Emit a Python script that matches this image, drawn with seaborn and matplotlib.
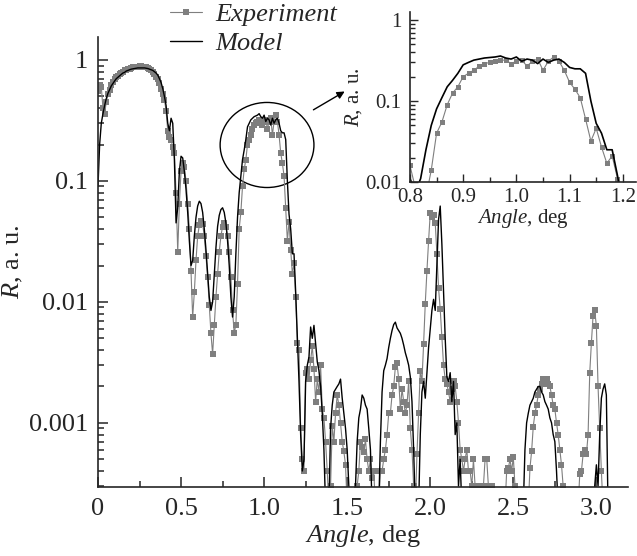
import numpy as np
import pandas as pd
import seaborn as sns
import matplotlib
matplotlib.use("Agg")
import matplotlib.pyplot as plt
from matplotlib.patches import Ellipse
from matplotlib.ticker import MultipleLocator, FixedLocator, LogLocator, NullFormatter, FuncFormatter

# experiment: sampled every 0.01 deg from 0.00 to 3.04
exp_angle = np.round(np.arange(0, 305) * 0.01, 2)
exp_r = [
    0.55, 0.62, 0.60, 0.40, 0.36, 0.45, 0.52, 0.57, 0.62, 0.66,
    0.69, 0.72, 0.74, 0.76, 0.78, 0.80, 0.82, 0.83, 0.84, 0.85,
    0.86, 0.87, 0.87, 0.88, 0.88, 0.89, 0.89, 0.88, 0.88, 0.87,
    0.86, 0.85, 0.83, 0.80, 0.77, 0.73, 0.70, 0.65, 0.58, 0.52,
    0.47, 0.38, 0.26, 0.23, 0.22, 0.19, 0.17, 0.08, 0.026, 0.065,
    0.12, 0.14, 0.13, 0.10, 0.065, 0.04, 0.018, 0.0075, 0.012, 0.022,
    0.035, 0.043, 0.047, 0.044, 0.035, 0.024, 0.016, 0.0095, 0.0055, 0.0037,
    0.0065, 0.011, 0.017, 0.026, 0.035, 0.042, 0.045, 0.042, 0.035, 0.026,
    0.016, 0.0085, 0.0055, 0.0065, 0.014, 0.04, 0.055, 0.09, 0.125, 0.15,
    0.20, 0.22, 0.24, 0.27, 0.29, 0.30, 0.31, 0.32, 0.32, 0.29,
    0.31, 0.32, 0.27, 0.31, 0.33, 0.24, 0.31, 0.35, 0.31, 0.24,
    0.17, 0.14, 0.11, 0.06, 0.032, 0.046, 0.027, 0.017, 0.021, 0.011,
    0.0046, 0.004, 0.0009, 0.0005, 0.0004, 0.0026, 0.0028, 0.0023, 0.0033, 0.0043,
    0.0028, 0.0015, 0.0023, 0.0018, 0.003, 0.0013, 0.0011, 0.0007, 0.0004, 0.0002,
    0.0003, 0.00095, 0.0007, 0.0012, 0.0017, 0.0014, 0.001, 0.0007, 0.00058, 0.00045,
    0.0002, 0.0001, 0.0001, 0.0001, 0.0001, 0.0002, 0.0003, 0.0004, 0.0007, 0.00063,
    0.00057, 0.00073, 0.0005, 0.0004, 0.0005, 0.00035, 0.0004, 0.0002, 0.0001, 0.0002,
    0.0004, 0.0004, 0.0005, 0.0006, 0.0008, 0.0012, 0.0012, 0.0017, 0.002, 0.0029,
    0.0031, 0.0023, 0.0013, 0.0019, 0.0015, 0.0012, 0.0014, 0.0022, 0.0009, 0.0006,
    0.0003, 0.0002, 0.00055, 0.0012, 0.0027, 0.0022, 0.0045, 0.0097, 0.018, 0.032,
    0.054, 0.05, 0.052, 0.045, 0.025, 0.013, 0.0087, 0.0051, 0.003, 0.0023,
    0.0021, 0.0018, 0.0015, 0.0019, 0.0022, 0.002, 0.0015, 0.001, 0.0006, 0.0005,
    0.0004, 0.0005, 0.0006, 0.0004, 0.0004, 0.0003, 0.0005, 0.0003, 0.0002, 0.0003,
    0.0002, 0.0002, 0.0003, 0.0005, 0.0005, 0.0003, 0.0002, 0.0003, 0.0002, 0.0002,
    0.0002, 0.0002, 0.0002, 0.0002, 0.0002, 0.0002, 0.0004, 0.00042, 0.0005, 0.0004,
    0.00052, 0.0003, 0.0002, 0.0002, 0.0002, 0.0002, 0.0002, 0.0002, 0.0002, 0.0002,
    0.00042, 0.00058, 0.00093, 0.0012, 0.0014, 0.0017, 0.0019, 0.0021, 0.0023, 0.0023,
    0.0023, 0.0021, 0.002, 0.0017, 0.0014, 0.0013, 0.001, 0.0008, 0.0006, 0.00045,
    0.0003, 0.0002, 0.0002, 0.0002, 0.0002, 0.0002, 0.0002, 0.0002, 0.0002, 0.0002,
    0.00038, 0.0004, 0.00055, 0.0006, 0.00055, 0.0008, 0.0026, 0.0046, 0.0077, 0.0085,
    0.0063, 0.002, 0.0009, 0.0004, 0.0002,
]

# model: three stretches (0.00-2.20, 2.55-2.78, 2.98-3.08), step 0.01 deg
model_angle = np.round(np.concatenate([
    np.arange(0, 221) * 0.01,
    2.55 + np.arange(0, 24) * 0.01,
    2.98 + np.arange(0, 11) * 0.01,
]), 2)
model_r = [
    0.09, 0.2, 0.3, 0.36, 0.42, 0.48, 0.53, 0.57, 0.61, 0.64,
    0.67, 0.70, 0.72, 0.74, 0.76, 0.78, 0.79, 0.81, 0.82, 0.83,
    0.84, 0.845, 0.85, 0.855, 0.86, 0.86, 0.86, 0.86, 0.86, 0.855,
    0.85, 0.84, 0.83, 0.82, 0.80, 0.78, 0.75, 0.70, 0.65, 0.58,
    0.50, 0.42, 0.30, 0.26, 0.33, 0.30, 0.15, 0.045, 0.06, 0.12,
    0.16, 0.155, 0.12, 0.085, 0.055, 0.032, 0.02, 0.022, 0.035, 0.05,
    0.062, 0.068, 0.065, 0.055, 0.04, 0.027, 0.017, 0.011, 0.0085, 0.01,
    0.017, 0.028, 0.042, 0.052, 0.058, 0.06, 0.055, 0.045, 0.032, 0.02,
    0.011, 0.0075, 0.011, 0.025, 0.05, 0.08, 0.11, 0.15, 0.18, 0.22,
    0.28, 0.30, 0.32, 0.33, 0.34, 0.345, 0.35, 0.36, 0.34, 0.33,
    0.35, 0.31, 0.33, 0.32, 0.29, 0.33, 0.30, 0.32, 0.33, 0.30,
    0.26, 0.25, 0.25, 0.22, 0.10, 0.053, 0.04, 0.025, 0.025, 0.012,
    0.005, 0.0022, 0.0008, 0.0004, 0.0005, 0.0022, 0.003, 0.0035, 0.0062, 0.005,
    0.0064, 0.0045, 0.0032, 0.0027, 0.002, 0.0012, 0.0006, 0.0002, 0.0001, 0.0002,
    0.0009, 0.0014, 0.0018, 0.0019, 0.002, 0.0021, 0.0023, 0.0016, 0.0012, 0.0009,
    0.0006, 0.0003, 0.0001, 0.0001, 0.0001, 0.0003, 0.0007, 0.0011, 0.0013, 0.0017,
    0.0016, 0.0014, 0.0013, 0.0009, 0.0006, 0.0002, 0.0001, 0.0001, 0.0001, 0.0002,
    0.0007, 0.0018, 0.0027, 0.003, 0.0034, 0.0042, 0.005, 0.0058, 0.0065, 0.0068,
    0.0061, 0.0058, 0.0055, 0.005, 0.0044, 0.0038, 0.0034, 0.003, 0.0024, 0.0015,
    0.0006, 0.0002, 0.0001, 0.0002, 0.0008, 0.0018, 0.0022, 0.0016, 0.0026, 0.0042,
    0.006, 0.0085, 0.0105, 0.0085, 0.02, 0.048, 0.062, 0.03, 0.012, 0.005,
    0.0024, 0.0022, 0.0026, 0.0015, 0.0022, 0.0008, 0.001, 0.0003, 0.0005, 0.0002,
    0.0001,
    # 2.55 - 2.78
    0.0001, 0.0002, 0.0006, 0.001, 0.0012, 0.0014, 0.0015, 0.0016, 0.0018, 0.0019,
    0.002, 0.002, 0.0018, 0.0017, 0.0015, 0.0014, 0.0013, 0.0011, 0.001, 0.0008,
    0.0007, 0.0004, 0.0002, 0.0001,
    # 2.98 - 3.08
    0.0001, 0.0003, 0.00045, 0.0003, 0.0008, 0.0016, 0.0019, 0.0021, 0.0017, 0.0002,
    0.0001,
]

labels = ["Experiment", "Model"]
gray = "#7f7f7f"

exp_df = pd.DataFrame({"angle": exp_angle, "R": exp_r})
model_df = pd.DataFrame({"angle": model_angle, "R": model_r})

sns.set_style("ticks")
plt.rcParams["font.family"] = ["Liberation Serif", "DejaVu Serif"]
plt.rcParams["mathtext.fontset"] = "custom"
plt.rcParams["mathtext.it"] = "Liberation Serif:italic"
plt.rcParams["mathtext.rm"] = "Liberation Serif"
plt.rcParams["axes.linewidth"] = 1.2


def draw(ax, ms, lw_exp, lw_mod):
    sns.lineplot(data=exp_df, x="angle", y="R", ax=ax, color=gray, lw=lw_exp,
                 marker="s", markersize=ms, markeredgewidth=0, markerfacecolor=gray,
                 estimator=None, sort=False, label=labels[0])
    sns.lineplot(data=model_df, x="angle", y="R", ax=ax, color="black", lw=lw_mod,
                 estimator=None, sort=False, label=labels[1])
    ax.set_yscale("log")
    ax.yaxis.set_minor_locator(LogLocator(base=10, subs=np.arange(2, 10)))
    ax.yaxis.set_minor_formatter(NullFormatter())
    ax.yaxis.set_major_formatter(FuncFormatter(lambda v, p: f"{v:g}"))
    sns.despine(ax=ax)


fig = plt.figure(figsize=(6.37, 5.56), dpi=100)

# main panel
ax = fig.add_axes([0.1538, 0.1241, 0.832, 0.8094])
draw(ax, 4.0, 0.8, 1.0)
ax.set_xlim(0, 3.19)
ax.set_ylim(2.95e-4, 1.55)
ax.xaxis.set_major_locator(MultipleLocator(0.5))
ax.xaxis.set_minor_locator(MultipleLocator(0.25))
ax.xaxis.set_major_formatter(FuncFormatter(lambda v, p: "0" if abs(v) < 1e-9 else f"{v:.1f}"))
ax.yaxis.set_major_locator(FixedLocator([1e-3, 1e-2, 1e-1, 1]))
ax.tick_params(which="both", direction="in", width=1.1, labelsize=19)
ax.tick_params(which="major", length=7)
ax.tick_params(which="minor", length=4)
ax.tick_params(axis="x", which="both", pad=8)
ax.tick_params(axis="y", which="both", pad=7)
ax.set_xlabel(r"$Angle$, deg", fontsize=19, labelpad=2)
ax.set_ylabel(r"$R$, a. u.", fontsize=19, labelpad=3)

handles, labs = ax.get_legend_handles_labels()
ax.get_legend().remove()
ax.legend(handles, labs, loc="upper left", bbox_to_anchor=(0.267, 0.995),
          bbox_transform=fig.transFigure, frameon=False, borderpad=0,
          borderaxespad=0, handlelength=1.2, handletextpad=0.5, labelspacing=0.2,
          prop={"family": "Liberation Serif", "style": "italic", "size": 19})

# circle around the first Bragg peak and the arrow to the inset
ax.add_patch(Ellipse((0.319, 0.76), 0.177, 0.189, transform=ax.transAxes,
                     fill=False, edgecolor="black", lw=1.0))
ax.annotate("", xy=(0.47, 0.882), xytext=(0.402, 0.835), xycoords="axes fraction",
            arrowprops=dict(arrowstyle="-|>", color="black", lw=1.0, mutation_scale=11))

# inset
axin = fig.add_axes([0.6436, 0.6727, 0.355, 0.3058])
draw(axin, 3.6, 0.8, 1.2)
axin.get_legend().remove()
axin.set_xlim(0.8, 1.225)
axin.set_ylim(0.01, 1.26)
axin.xaxis.set_major_locator(MultipleLocator(0.1))
axin.xaxis.set_minor_locator(MultipleLocator(0.05))
axin.xaxis.set_major_formatter(FuncFormatter(lambda v, p: f"{v:.1f}"))
axin.yaxis.set_major_locator(FixedLocator([1e-2, 1e-1, 1]))
axin.tick_params(which="both", direction="in", width=1.0, labelsize=15)
axin.tick_params(which="major", length=6)
axin.tick_params(which="minor", length=3.5)
axin.tick_params(axis="x", which="both", pad=4)
axin.tick_params(axis="y", which="both", pad=6)
axin.set_xlabel(r"$Angle$, deg", fontsize=15, labelpad=0)
axin.set_ylabel(r"$R$, a. u.", fontsize=15, labelpad=1)

fig.savefig("out.png", dpi=100)
